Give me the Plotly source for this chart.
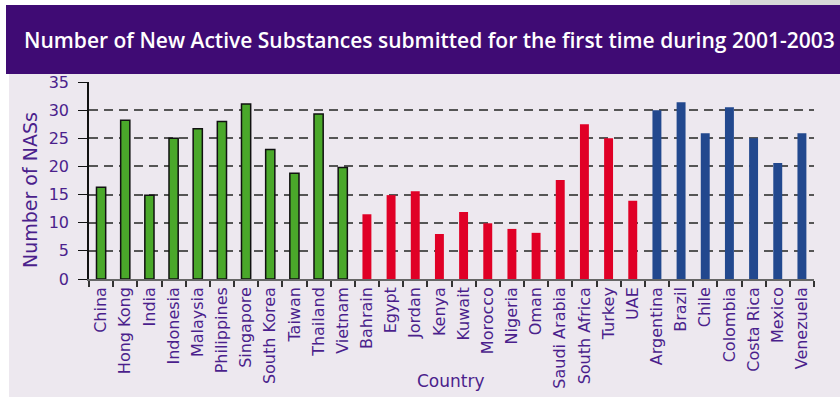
import plotly.graph_objects as go

asia = ["China", "Hong Kong", "India", "Indonesia", "Malaysia", "Philippines",
        "Singapore", "South Korea", "Taiwan", "Thailand", "Vietnam"]
asia_vals = [16.3, 28.2, 14.9, 25.0, 26.7, 28.0, 31.1, 23.0, 18.8, 29.3, 19.8]

mea = ["Bahrain", "Egypt", "Jordan", "Kenya", "Kuwait", "Morocco", "Nigeria",
       "Oman", "Saudi Arabia", "South Africa", "Turkey", "UAE"]
mea_vals = [11.5, 14.9, 15.6, 8.0, 11.9, 9.9, 8.9, 8.2, 17.6, 27.5, 25.0, 13.9]

latam = ["Argentina", "Brazil", "Chile", "Colombia", "Costa Rica", "Mexico", "Venezuela"]
latam_vals = [30.0, 31.4, 25.9, 30.5, 25.0, 20.6, 25.9]

title_text = "Number of New Active Substances submitted for the first time during 2001-2003"
y_title = "Number of NASs"
x_title = "Country"
y_ticks = [0, 5, 10, 15, 20, 25, 30, 35]

purple_txt = "#4b1f8c"
bg = "#ede8ef"

W, H = 840, 397
L, R, T, B = 89, 26, 82, 118
pw, ph = W - L - R, H - T - B

def px(x):
    return (x - L) / pw

def py(y):
    return (H - B - y) / ph

fig = go.Figure()
fig.add_trace(go.Bar(x=asia, y=asia_vals, width=0.38, marker_color="#4aa82a",
                     marker_line_color="#111", marker_line_width=1.5, showlegend=False))
fig.add_trace(go.Bar(x=mea, y=mea_vals, width=0.37, marker_color="#e00026",
                     marker_line_width=0, showlegend=False))
fig.add_trace(go.Bar(x=latam, y=latam_vals, width=0.37, marker_color="#22488e",
                     marker_line_width=0, showlegend=False))

shapes = [
    dict(type="rect", xref="paper", yref="paper", x0=px(9), x1=px(841), y0=py(398), y1=py(73),
         fillcolor=bg, line_width=0, layer="below"),
    dict(type="rect", xref="paper", yref="paper", x0=px(6), x1=px(841), y0=py(74), y1=py(5),
         fillcolor="#3f0b74", line_width=0, layer="below"),
    dict(type="rect", xref="paper", yref="paper", x0=px(730), x1=px(841), y0=py(5), y1=py(0),
         fillcolor="#d8d8d8", line_width=0, layer="below"),
]

fig.update_layout(
    width=W, height=H,
    margin=dict(l=L, r=R, t=T, b=B, pad=0, autoexpand=False),
    paper_bgcolor="white", plot_bgcolor=bg,
    barmode="overlay",
    shapes=shapes,
    font=dict(family="DejaVu Sans", color=purple_txt),
    annotations=[
        dict(text=title_text, xref="paper", yref="paper", x=px(429), y=py(40),
             showarrow=False, xanchor="center", yanchor="middle",
             font=dict(family="Open Sans", size=21, color="white", weight=600)),
        dict(text=x_title, xref="paper", yref="paper", x=px(451), y=py(381),
             showarrow=False, xanchor="center", yanchor="middle",
             font=dict(size=17, color=purple_txt)),
        dict(text=y_title, xref="paper", yref="paper", x=px(30), y=py(190),
             showarrow=False, xanchor="center", yanchor="middle", textangle=-90,
             font=dict(size=19, color=purple_txt)),
    ],
)

fig.update_xaxes(
    automargin=False,
    categoryorder="array", categoryarray=asia + mea + latam,
    tickson="boundaries", ticks="outside", ticklen=6, tickwidth=2, tickcolor="#333",
    showline=True, linecolor="#666", linewidth=1.5,
    tickangle=-90, tickfont=dict(size=16, color=purple_txt),
    range=[-0.5, 29.5],
)
fig.update_yaxes(
    automargin=False,
    range=[0, 35], tickvals=y_ticks, ticks="outside", ticklen=9, tickcolor="#111",
    showline=True, linecolor="#111", linewidth=1.5,
    showgrid=True, gridcolor="#555", griddash="9px,6px", gridwidth=1.6,
    zeroline=False, ticklabelstandoff=6,
    tickfont=dict(size=16, color=purple_txt),
)

fig.write_html("out.html")
